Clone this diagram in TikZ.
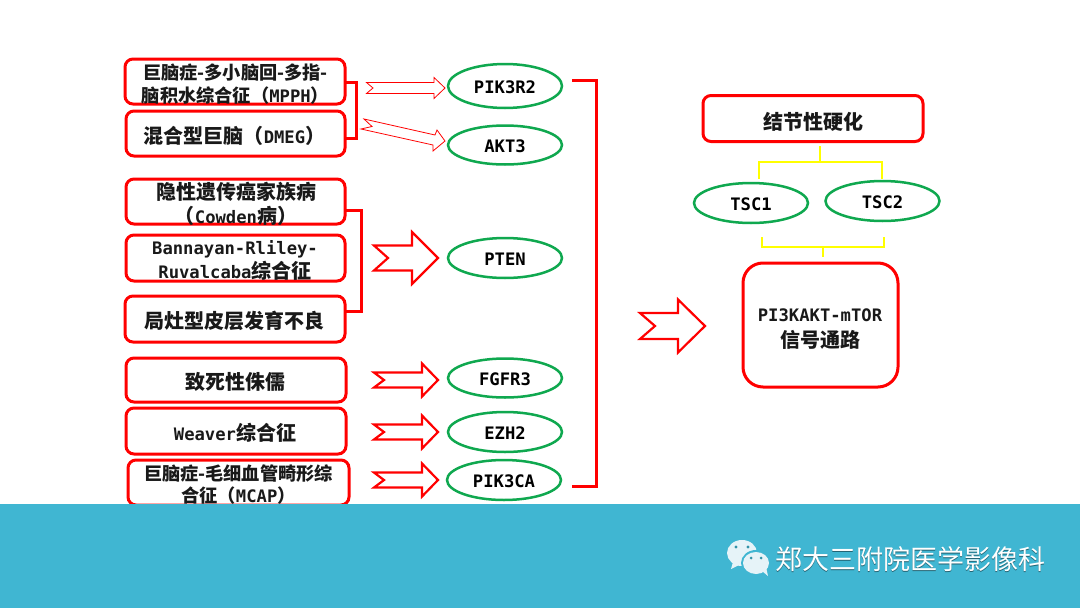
\documentclass[tikz,border=0pt]{standalone}
\usepackage{fontspec}
\usetikzlibrary{shapes.geometric}
\setmainfont{Noto Sans CJK SC}
\newfontfamily\monof{DejaVu Sans Mono}
\newcommand{\lat}[1]{{\fontsize{17.2}{20}\selectfont\monof\bfseries #1}}
\newcommand{\ovaltext}[1]{\raisebox{-7.8pt}[0pt][0pt]{\lat{#1}}}
\definecolor{boxred}{HTML}{FF0000}
\definecolor{ovalgreen}{HTML}{0FA84F}
\definecolor{linkyellow}{HTML}{FFFF00}
\definecolor{footblue}{HTML}{40B6D2}
\definecolor{iconwhite}{HTML}{E6F3F8}
\tikzset{
  redbox/.style={draw=boxred,line width=3pt,rounded corners=8pt,fill=white,inner sep=0pt,minimum width=#1},
  lab/.style={inner sep=0pt,align=center,font=\fontsize{20}{24}\selectfont\bfseries,text=black!90},
  smalllab/.style={inner sep=0pt,align=center,font=\fontsize{18.2}{22.5}\selectfont\bfseries,text=black!90},
  oval/.style={shape=ellipse,draw=ovalgreen,line width=2.5pt,fill=white,minimum width=114pt,minimum height=#1,inner sep=0pt},
  brk/.style={draw=boxred,line width=3pt,line join=miter},
  yel/.style={draw=linkyellow,line width=2.6pt},
  fatthin/.style={draw=boxred,line width=0.8pt,fill=white},
  fat/.style={draw=boxred,line width=2.2pt,fill=white,line join=miter}
}
% tail x, notch x, head base x, tip x, centre y, shaft half height, head half height, style
\newcommand{\notched}[8]{\draw[#8] (#1,#5-#6) -- (#3,#5-#6) -- (#3,#5-#7) -- (#4,#5) -- (#3,#5+#7) -- (#3,#5+#6) -- (#1,#5+#6) -- (#2,#5) -- cycle;}
\begin{document}
\begin{tikzpicture}[x=1pt,y=-1pt]
\useasboundingbox (0,0) rectangle (1080,608);
\fill[white] (0,0) rectangle (1080,608);

% left boxes
\node[redbox=220pt,minimum height=45pt] (b1) at (235,81.5) {};
\node[redbox=219pt,minimum height=45pt] (b2) at (235.5,133.5) {};
\node[redbox=219pt,minimum height=45pt] (b3) at (235.5,201.5) {};
\node[redbox=219pt,minimum height=46pt] (b4) at (235.5,258) {};
\node[redbox=220pt,minimum height=46pt] (b5) at (235,319) {};
\node[redbox=220pt,minimum height=44pt] (b6) at (236,380) {};
\node[redbox=220pt,minimum height=46pt] (b7) at (236,431) {};
\node[redbox=221pt,minimum height=45pt] (b8) at (238.5,482.5) {};

\node[smalllab] (t1) at (235.5,84) {巨脑症-多小脑回-多指-\\脑积水综合征（\lat{MPPH}）};
\node[lab] (t2) at (234.5,136) {混合型巨脑（\lat{DMEG}）};
\node[lab] (t3) at (236,204) {隐性遗传癌家族病\\（\lat{Cowden}病）};
\node[lab] (t4) at (235,260) {\lat{Bannayan-Rliley-}\\\lat{Ruvalcaba}综合征};
\node[lab] (t5) at (234,321) {局灶型皮层发育不良};
\node[lab] (t6) at (235,382) {致死性侏儒};
\node[lab] (t7) at (235,433) {\lat{Weaver}综合征};
\node[smalllab] (t8) at (238.5,484.5) {巨脑症-毛细血管畸形综\\合征（\lat{MCAP}）};

% green ovals
\node[oval=44pt] (o1) at (505,86) {\ovaltext{PIK3R2}};
\node[oval=39pt] (o2) at (505,145) {\ovaltext{AKT3}};
\node[oval=40pt] (o3) at (505,258) {\ovaltext{PTEN}};
\node[oval=39pt] (o4) at (505,378) {\ovaltext{FGFR3}};
\node[oval=40pt] (o5) at (505,432) {\ovaltext{EZH2}};
\node[oval=40pt] (o6) at (504,480) {\ovaltext{PIK3CA}};

% brackets
\coordinate (b1top) at (345,82);
\coordinate (b2bot) at (345,138);
\coordinate (b3top) at (345,210);
\coordinate (b5bot) at (345,311);
\coordinate (bigtop) at (572,80);
\coordinate (bigbot) at (572,486);
\draw[brk] (b1top) -- (356,82) |- (b2bot);
\draw[brk] (b3top) -- (361,210) |- (b5bot);
\draw[brk] (bigtop) -- (596,80) |- (bigbot);

% fat arrows
\notched{366.5}{373}{434}{445}{88}{5.5}{10.5}{fatthin}
\draw[fatthin] (364,119) -- (435,135) -- (437,130) -- (445,141) -- (433,151) -- (433,145) -- (361,129) -- (372,126.5) -- cycle;
\notched{374}{388}{412}{438}{258}{12.5}{26}{fat}
\notched{374}{384}{422}{438}{380}{7.5}{16.5}{fat}
\notched{374}{384}{422}{438}{432}{7.5}{16.5}{fat}
\notched{374}{384}{422}{438}{480}{7.5}{16.5}{fat}
\notched{640}{655}{678}{705}{326}{13}{26.5}{fat}

% right part
\node[redbox=220pt,minimum height=46pt] (top) at (813,118.5) {};
\node[lab] (ttop) at (813,122) {结节性硬化};
\node[oval=40pt] (tsc1) at (751,203) {\ovaltext{TSC1}};
\node[oval=40pt] (tsc2) at (882.5,201) {\ovaltext{TSC2}};
\node[draw=boxred,line width=3pt,rounded corners=20pt,fill=white,minimum width=155pt,minimum height=124pt,inner sep=0pt] (path) at (820.5,325) {};
\node[lab] (tpath) at (820,329) {\lat{PI3KAKT-mTOR}\\[1.5pt]信号通路};

\coordinate (ya) at (820,146);
\coordinate (yb) at (820,162);
\coordinate (yc) at (759,179);
\coordinate (yd) at (882,179);
\draw[yel] (ya) -- (yb);
\draw[yel] (yc) |- (yb) -| (yd);
\coordinate (ye) at (762,237);
\coordinate (yf) at (884,237);
\coordinate (yg) at (823,247);
\coordinate (yh) at (823,257);
\draw[yel] (ye) |- (yg) -| (yf);
\draw[yel] (yg) -- (yh);

% footer
\fill[footblue] (0,504) rectangle (1080,608);
\node[inner sep=0pt,font=\fontsize{27}{30}\selectfont,text=black!45!footblue] at (910.7,559.7) {郑大三附院医学影像科};
\node[inner sep=0pt,font=\fontsize{27}{30}\selectfont,text=white] (foot) at (910,559) {郑大三附院医学影像科};

% wechat icon
\fill[iconwhite] (742,553) ellipse (15pt and 13pt);
\fill[iconwhite] (733,562) -- (731,569) -- (741,564) -- cycle;
\fill[footblue] (756,563) ellipse (15pt and 13pt);
\fill[iconwhite] (756,563) ellipse (13pt and 11pt);
\fill[iconwhite] (762,571) -- (768,576) -- (766,567) -- cycle;
\fill[footblue!80!black] (736,547) circle (1.6pt) (748,547) circle (1.6pt) (751,558) circle (1.5pt) (761,558) circle (1.5pt);
\end{tikzpicture}
\end{document}
